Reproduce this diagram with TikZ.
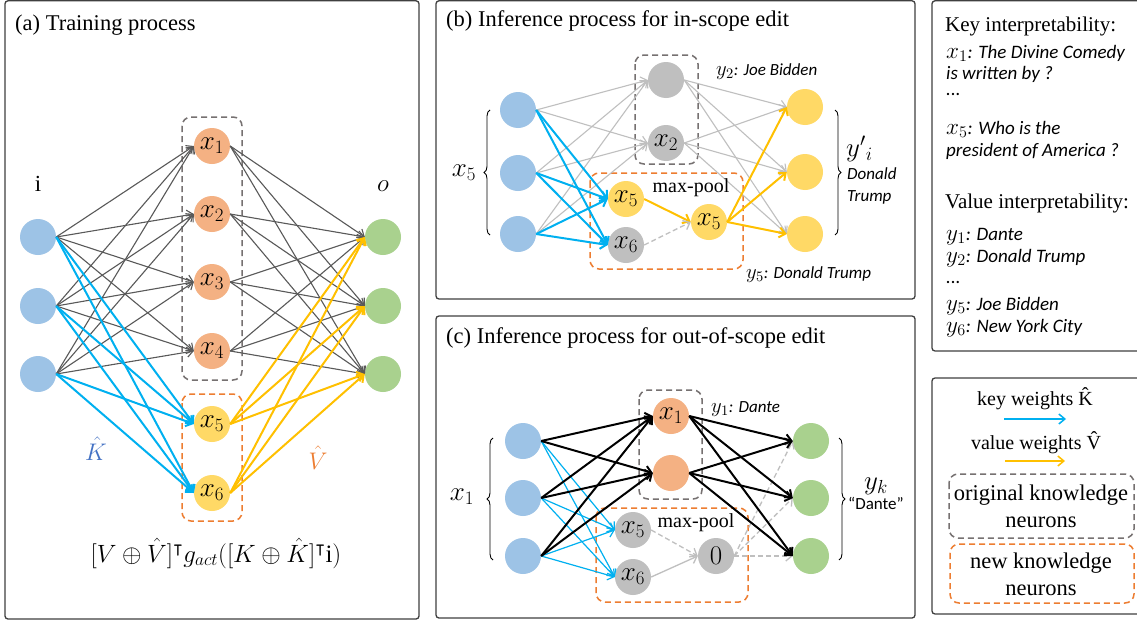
\RequirePackage{fix-cm}
\documentclass[tikz,border=0pt]{standalone}
\usepackage{fontspec}
\usepackage{amssymb}
\setmainfont{Liberation Serif}
\newfontfamily\cali{Carlito}
\usetikzlibrary{arrows.meta,decorations.pathreplacing}

% math variables set beside Calibri-like text are scaled up a little
\newcommand\mv[1]{\scalebox{1.22}{$#1$}}

\definecolor{nBlue}{HTML}{9DC3E6}
\definecolor{nOrange}{HTML}{F4B183}
\definecolor{nYellow}{HTML}{FFD966}
\definecolor{nGreen}{HTML}{A9D18E}
\definecolor{nGray}{HTML}{BFBFBF}
\definecolor{kBlue}{HTML}{00B0F0}
\definecolor{vYellow}{HTML}{FFC000}
\definecolor{edgeDark}{HTML}{595959}
\definecolor{edgeLight}{HTML}{BFBFBF}
\definecolor{boxGray}{HTML}{767171}
\definecolor{boxOrange}{HTML}{ED7D31}
\definecolor{panelC}{HTML}{3F3F3F}
\definecolor{hatBlue}{HTML}{4472C4}

\tikzset{
  neuron/.style={circle,minimum size=36pt,inner sep=0pt,font=\fontsize{27}{27}\selectfont},
  nblue/.style={neuron,fill=nBlue},
  norange/.style={neuron,fill=nOrange},
  nyellow/.style={neuron,fill=nYellow},
  ngreen/.style={neuron,fill=nGreen},
  ngray/.style={neuron,fill=nGray},
  panel/.style={draw=panelC,line width=1.3pt,rounded corners=3pt},
  oldbox/.style={draw=boxGray,dash pattern=on 6pt off 4pt,line width=1.5pt,rounded corners=9pt},
  newbox/.style={draw=boxOrange,dash pattern=on 6pt off 4pt,line width=1.5pt,rounded corners=9pt},
  headed/.style={-{Straight Barb[length=6pt,width=10pt]}},
  darr/.style={draw=edgeDark,line width=1.1pt,headed},
  larr/.style={draw=edgeLight,line width=1.1pt,headed},
  karr/.style={draw=black,line width=2pt,headed},
  barr/.style={draw=kBlue,line width=2pt,headed},
  tbarr/.style={draw=kBlue,line width=1.2pt,headed},
  yarr/.style={draw=vYellow,line width=2pt,headed},
  dashedarr/.style={draw=edgeLight,line width=1.3pt,dash pattern=on 5pt off 3pt,headed},
  brc/.style={draw=black,line width=0.9pt,decorate,decoration={brace,amplitude=6pt}},
  title/.style={anchor=base west,inner sep=0pt,font=\fontsize{22.5}{24}\selectfont},
  serif/.style={inner sep=0pt,font=\fontsize{20}{22}\selectfont},
  note/.style={anchor=base west,inner sep=0pt,font=\cali\itshape\fontsize{17}{18}\selectfont},
  keytxt/.style={anchor=base west,inner sep=0pt,font=\cali\itshape\fontsize{19}{20}\selectfont},
  mathlbl/.style={inner sep=0pt,font=\fontsize{27}{27}\selectfont},
}

\begin{document}
\begin{tikzpicture}[x=1pt,y=-1pt]
\useasboundingbox (0,0) rectangle (1137,621);
\clip (0,0) rectangle (1137,621);
\fill[white] (0,0) rectangle (1137,621);

% ---------- panel frames ----------
\draw[panel] (5,0.8) rectangle (419,619);
\draw[panel] (436,0.8) rectangle (915,299);
\draw[panel] (436,316) rectangle (915,618);
\draw[panel] (932,0.8) rectangle (1150,351);
\draw[panel] (932,378) rectangle (1150,614);

% ================= (a) training process =================
\node[title] (ta) at (15,30) {(a) Training process};

\draw[oldbox] (182,117) rectangle (242,380);
\draw[newbox] (182,394) rectangle (242,521);

\node[nblue] (ai1) at (38,237) {};
\node[nblue] (ai2) at (38,306) {};
\node[nblue] (ai3) at (38,374) {};
\node[ngreen] (ao1) at (383,237) {};
\node[ngreen] (ao2) at (383,306) {};
\node[ngreen] (ao3) at (383,374) {};
\node[norange] (ah1) at (212,146) {$x_1$};
\node[norange] (ah2) at (212,214) {$x_2$};
\node[norange] (ah3) at (212,282) {$x_3$};
\node[norange] (ah4) at (212,351) {$x_4$};
\node[nyellow] (ah5) at (212,424) {$x_5$};
\node[nyellow] (ah6) at (212,493) {$x_6$};

\foreach \i in {1,2,3}{
  \foreach \h in {1,2,3,4}{
    \draw[darr] (ai\i.east) -- (ah\h.west);
    \draw[darr] (ah\h.east) -- (ao\i.west);
  }
}
\foreach \i in {1,2,3}{
  \foreach \h in {5,6}{
    \draw[barr] (ai\i.east) -- (ah\h.west);
    \draw[yarr] (ah\h.east) -- (ao\i.west);
  }
}

\node[serif,anchor=base,font=\fontsize{23}{23}\selectfont] (li) at (38,191) {i};
\node[mathlbl,anchor=base,font=\fontsize{25}{25}\selectfont] (lo) at (383,191) {$o$};
\node[mathlbl,anchor=base,text=hatBlue,font=\fontsize{24}{24}\selectfont] (lk) at (96,460) {$\hat{K}$};
\node[mathlbl,anchor=base,text=boxOrange,font=\fontsize{24}{24}\selectfont] (lv) at (318,469) {$\hat{V}$};
\node[mathlbl,anchor=base,font=\fontsize{25}{25}\selectfont] (form) at (216,562)
  {$[V\oplus\hat{V}]^{\intercal} g_{act}([K\oplus\hat{K}]^{\intercal}\mathrm{i})$};

% ================= (b) in-scope edit =================
\node[title] (tb) at (446,27) {(b) Inference process for in-scope edit};

\draw[oldbox] (635,55) rectangle (698,164);
\draw[newbox] (590,173) rectangle (743,269);

\node[nblue] (bi1) at (518,110) {};
\node[nblue] (bi2) at (518,173) {};
\node[nblue] (bi3) at (518,234) {};
\node[ngray] (bh1) at (666,80) {};
\node[ngray] (bh2) at (666,143) {$x_2$};
\node[nyellow] (bp5) at (626,199) {$x_5$};
\node[ngray] (bp6) at (626,245) {$x_6$};
\node[nyellow] (bq) at (709,222) {$x_5$};
\node[nyellow] (bo1) at (805,107) {};
\node[nyellow] (bo2) at (805,172) {};
\node[nyellow] (bo3) at (805,234) {};

\foreach \i in {1,2,3}{
  \foreach \h in {1,2}{
    \draw[larr] (bi\i.east) -- (bh\h.west);
    \draw[larr] (bh\h.east) -- (bo\i.west);
  }
}
\foreach \i in {1,2,3}{
  \draw[barr] (bi\i.east) -- (bp5.west);
  \draw[barr] (bi\i.east) -- (bp6.west);
  \draw[yarr] (bq.east) -- (bo\i.west);
}
\draw[yarr] (bp5.east) -- (bq.west);
\draw[dashedarr] (bp6.east) -- (bq.west);

\node[serif,anchor=base] (mpb) at (691,192) {max-pool};
\node[note] (y2b) at (716,75) {\mv{y_2}: Joe Bidden};
\node[note] (y5b) at (746,278) {\mv{y_5}: Donald Trump};

\coordinate (blt) at (490,110);
\coordinate (blb) at (490,235);
\draw[brc] (blb) -- (blt);
\node[mathlbl] (xb) at (464,173) {$x_5$};
\coordinate (brt) at (835,110);
\coordinate (brb) at (835,235);
\draw[brc] (brt) -- (brb);
\node[mathlbl,anchor=base west] (yib) at (846,156) {$y'{}_i$};
\node[note] (dnb) at (847,179) {Donald};
\node[note] (trb) at (847,201) {Trump};

% ================= (c) out-of-scope edit =================
\node[title] (tc) at (446,343) {(c) Inference process for out-of-scope edit};

\draw[oldbox] (639,390) rectangle (702,499);
\draw[newbox] (596,508) rectangle (748,602);

\node[nblue] (ci1) at (523,441) {};
\node[nblue] (ci2) at (523,498) {};
\node[nblue] (ci3) at (523,556) {};
\node[norange] (ch1) at (671,416) {$x_1$};
\node[norange] (ch2) at (671,473) {};
\node[ngray] (cp5) at (633,530) {$x_5$};
\node[ngray] (cp6) at (633,577) {$x_6$};
\node[ngray] (cz) at (716,556) {$0$};
\node[ngreen] (co1) at (811,441) {};
\node[ngreen] (co2) at (811,498) {};
\node[ngreen] (co3) at (811,556) {};

\foreach \i in {1,2,3}{
  \draw[tbarr] (ci\i.east) -- (cp5.west);
  \draw[tbarr] (ci\i.east) -- (cp6.west);
  \draw[dashedarr] (cz.east) -- (co\i.west);
}
\foreach \i in {1,2,3}{
  \foreach \h in {1,2}{
    \draw[karr] (ci\i.east) -- (ch\h.west);
    \draw[karr] (ch\h.east) -- (co\i.west);
  }
}
\draw[dashedarr] (cp5.east) -- (cz.west);
\draw[larr,line width=1.3pt] (cp6.east) -- (cz.west);

\node[serif,anchor=base] (mpc) at (696,527) {max-pool};
\node[note] (y1c) at (711,412) {\mv{y_1}: Dante};

\coordinate (clt) at (493,438);
\coordinate (clb) at (493,560);
\draw[brc] (clb) -- (clt);
\node[mathlbl] (xc) at (462,497) {$x_1$};
\coordinate (crt) at (839,438);
\coordinate (crb) at (839,560);
\draw[brc] (crt) -- (crb);
\node[mathlbl,anchor=base] (ykc) at (876,489) {$y_k$};
\node[anchor=base west,inner sep=0pt,font=\cali\fontsize{17}{18}\selectfont] (dc) at (848,509) {“Dante”};

% ================= interpretability panel =================
\node[title,font=\fontsize{21}{22}\selectfont] (kh) at (945,31) {Key interpretability:};
\node[keytxt] (k1) at (946,58) {\mv{x_1}: The Divine Comedy};
\node[keytxt] (k2) at (946,79) {is written by ?};
\node[keytxt] (k3) at (946,95) {...};
\node[keytxt] (k4) at (946,134) {\mv{x_5}: Who is the};
\node[keytxt] (k5) at (946,156) {president of America ?};
\node[title,font=\fontsize{21}{22}\selectfont] (vh) at (945,208) {Value interpretability:};
\node[keytxt] (v1) at (946,240) {\mv{y_1}: Dante};
\node[keytxt] (v2) at (946,262) {\mv{y_2}: Donald Trump};
\node[keytxt] (v3) at (946,283) {...};
\node[keytxt] (v4) at (946,310) {\mv{y_5}: Joe Bidden};
\node[keytxt] (v5) at (946,332) {\mv{y_6}: New York City};

% ================= legend =================
\node[serif,anchor=base] (lgk) at (1035,405) {key weights \^{K}};
\coordinate (lk1) at (1004,419);
\coordinate (lk2) at (1066,419);
\draw[tbarr,line width=1.5pt] (lk1) -- (lk2);
\node[serif,anchor=base] (lgv) at (1036,449) {value weights \^{V}};
\coordinate (lv1) at (1005,461);
\coordinate (lv2) at (1065,461);
\draw[yarr,line width=1.5pt] (lv1) -- (lv2);
\draw[oldbox] (949,474) rectangle (1134,538);
\node[serif,anchor=base,font=\fontsize{22.5}{24}\selectfont] (lo1) at (1041,500) {original knowledge};
\node[serif,anchor=base,font=\fontsize{22.5}{24}\selectfont] (lo2) at (1041,527) {neurons};
\draw[newbox] (950,544) rectangle (1134,603);
\node[serif,anchor=base,font=\fontsize{22.5}{24}\selectfont] (ln1) at (1041,568) {new knowledge};
\node[serif,anchor=base,font=\fontsize{22.5}{24}\selectfont] (ln2) at (1041,595) {neurons};
\end{tikzpicture}
\end{document}
